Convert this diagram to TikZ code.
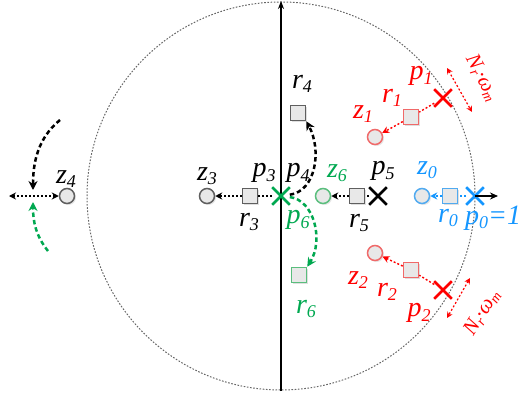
\documentclass[tikz,border=0pt]{standalone}
\usepackage{fontspec}
\setmainfont{Liberation Serif}
\usetikzlibrary{arrows.meta,shapes.misc,shadows}
\definecolor{shfill}{RGB}{232,232,232}
\definecolor{gbord}{RGB}{95,95,95}
\definecolor{myred}{RGB}{255,0,0}
\definecolor{lred}{RGB}{240,105,105}
\definecolor{mygreen}{RGB}{0,168,80}
\definecolor{lgreen}{RGB}{90,190,125}
\definecolor{myblue}{RGB}{20,150,255}
\definecolor{lblue}{RGB}{80,170,240}
\newcommand\mysub[1]{\raisebox{-0.35ex}{\fontsize{18}{18}\selectfont #1}}
\newcommand\mysubs[1]{\raisebox{-0.3ex}{\fontsize{14}{14}\selectfont #1}}
\tikzset{
 lbl/.style={font=\fontsize{28}{30}\selectfont\itshape, inner sep=0pt},
 nlbl/.style={font=\fontsize{21}{22}\selectfont\itshape, inner sep=0pt, text=myred},
 sq/.style={draw=gbord, fill=shfill, minimum size=15pt, inner sep=0pt, line width=1.5pt,
   drop shadow={opacity=0.25, shadow xshift=1.5pt, shadow yshift=-1.5pt}},
 zc/.style={circle, draw=gbord, fill=shfill, minimum size=15pt, inner sep=0pt, line width=1.5pt,
   drop shadow={opacity=0.2, shadow xshift=1.5pt, shadow yshift=-1.5pt}},
 xm/.style={cross out, draw, minimum size=15pt, inner sep=0pt, line width=2.6pt},
 dotl/.style={line width=1.4pt, dash pattern=on 2pt off 2pt},
 darr/.style={dotl, -{Stealth[length=7pt,width=7pt]}},
 curv/.style={line width=2.5pt, dash pattern=on 4.5pt off 3pt, -{Stealth[length=9pt,width=9pt]}},
}
\begin{document}
\begin{tikzpicture}[x=1pt,y=-1pt]
\useasboundingbox (0,0) rectangle (526,401);
% unit circle
\coordinate (o) at (281,196);
\draw[gray!80!black, line width=1pt, dash pattern=on 1.6pt off 1.6pt] (o) circle (194pt);
% vertical axis
\coordinate (vb) at (281,391);
\coordinate (vt) at (281,1);
\draw[line width=1.2pt, -{Stealth[length=8pt,width=6pt]}] (vb) -- (vt);

% left group
\node[zc] (z4) at (67,196) {};
\node[lbl] (lz4) at (66,179) {z\mysub{4}};
\coordinate (hl) at (9,196);
\draw[dotl, {Stealth[length=7pt,width=7pt]}-{Stealth[length=7pt,width=7pt]}] (hl) -- (z4);
\coordinate (bt) at (60,120);
\coordinate (bm) at (33,190);
\draw[curv] (bt) .. controls (38,138) and (33,162) .. (bm);
\coordinate (gt) at (48,251);
\coordinate (gm) at (33,202);
\draw[curv, mygreen] (gt) .. controls (36,236) and (33,222) .. (gm);

% center group
\node[xm, mygreen] (p3) at (281,196) {};
\node[sq] (r3) at (250,196) {};
\node[zc] (z3) at (207,196) {};
\draw[dotl] (p3) -- (r3);
\draw[darr] (r3) -- (z3);
\node[lbl] at (207,176) {z\mysub{3}};
\node[lbl] at (264,173) {p\mysub{3}};
\node[lbl] at (298,173) {p\mysub{4}};
\node[lbl] at (249,222) {r\mysub{3}};
\node[sq] (r4) at (298,113) {};
\node[lbl] at (302,84) {r\mysub{4}};
\draw[curv] (p3) .. controls (316,191) and (322,150) .. (r4.south east);
\node[sq, draw=lgreen] (r6) at (299,275) {};
\node[lbl, text=mygreen] at (298,220) {p\mysub{6}};
\node[lbl, text=mygreen] at (306,309) {r\mysub{6}};
\draw[curv, mygreen] (p3) .. controls (314,200) and (324,240) .. (r6.north east);

% p5 group
\node[zc, draw=lgreen] (z6) at (323,196) {};
\node[sq] (r5) at (357,196) {};
\node[xm] (p5) at (378,196) {};
\draw[dotl] (p5) -- (r5);
\draw[darr] (r5) -- (z6);
\node[lbl, text=mygreen] at (337,173) {z\mysub{6}};
\node[lbl] at (383,171) {p\mysub{5}};
\node[lbl] at (359,223) {r\mysub{5}};

% p0 group
\node[zc, draw=lblue] (z0) at (422,196) {};
\node[sq, draw=lblue] (r0) at (450,196) {};
\node[xm, myblue] (p0) at (475,196) {};
\coordinate (ha) at (498,196);
\draw[line width=1.2pt, -{Stealth[length=8pt,width=7pt]}] (p0.center) -- (ha);
\draw[dotl, myblue] (p0) -- (r0);
\draw[darr, myblue] (r0) -- (z0);
\node[lbl, text=myblue] at (427,170) {z\mysub{0}};
\node[lbl, text=myblue] at (448,218) {r\mysub{0}};
\node[lbl, text=myblue, anchor=west] at (465,218) {p\mysub{0}=1};

% p1 group
\node[zc, draw=lred] (z1) at (375,137) {};
\node[sq, draw=lred] (r1) at (411,117) {};
\node[xm, myred] (p1) at (443,98) {};
\draw[dotl, myred] (p1) -- (r1);
\draw[darr, myred] (r1) -- (z1);
\node[lbl, text=myred] at (363,114) {z\mysub{1}};
\node[lbl, text=myred] at (392,98) {r\mysub{1}};
\node[lbl, text=myred] at (421,76) {p\mysub{1}};
\coordinate (na1) at (447,68);
\coordinate (na2) at (472,112);
\draw[myred, dotl, line width=1.2pt, {Stealth[length=6pt,width=6pt]}-{Stealth[length=6pt,width=6pt]}] (na1) -- (na2);
\node[nlbl, rotate=-62] at (482,78) {N\mysubs{r}·ω\mysubs{m}};

% p2 group
\node[zc, draw=lred] (z2) at (375,253) {};
\node[sq, draw=lred] (r2) at (411,270) {};
\node[xm, myred] (p2) at (443,290) {};
\draw[dotl, myred] (p2) -- (r2);
\draw[darr, myred] (r2) -- (z2);
\node[lbl, text=myred] at (358,280) {z\mysub{2}};
\node[lbl, text=myred] at (387,292) {r\mysub{2}};
\node[lbl, text=myred] at (419,313) {p\mysub{2}};
\coordinate (nb1) at (470,278);
\coordinate (nb2) at (447,318);
\draw[myred, dotl, line width=1.2pt, {Stealth[length=6pt,width=6pt]}-{Stealth[length=6pt,width=6pt]}] (nb1) -- (nb2);
\node[nlbl, rotate=58] at (482,313) {N\mysubs{r}·ω\mysubs{m}};
\end{tikzpicture}
\end{document}
